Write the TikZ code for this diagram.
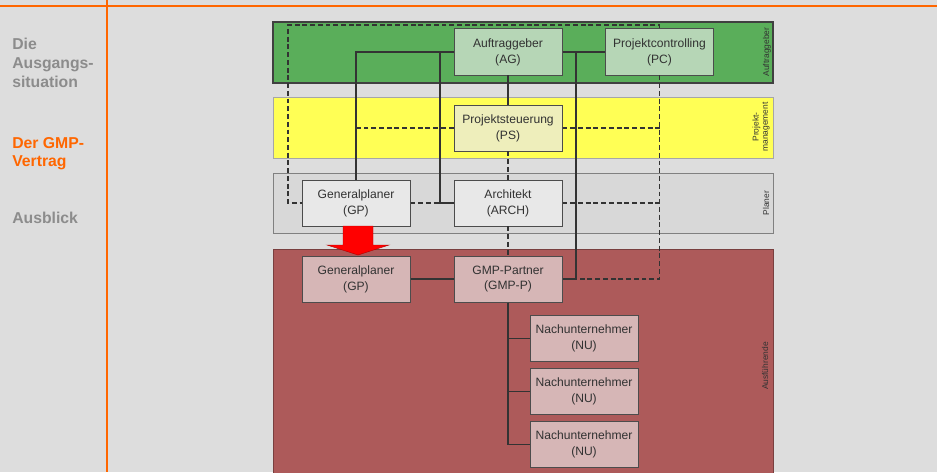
\documentclass[tikz,border=0pt]{standalone}
\usepackage{fontspec}
\setmainfont{Liberation Sans}
\definecolor{slidebg}{RGB}{221,221,221}
\definecolor{slideorange}{RGB}{255,102,0}
\definecolor{menugray}{RGB}{140,140,140}
\definecolor{agfill}{RGB}{90,174,90}
\definecolor{agbox}{RGB}{182,214,182}
\definecolor{pmfill}{RGB}{255,255,85}
\definecolor{pmbox}{RGB}{238,238,187}
\definecolor{plfill}{RGB}{216,216,216}
\definecolor{plbox}{RGB}{232,232,232}
\definecolor{exfill}{RGB}{173,90,90}
\definecolor{exbox}{RGB}{214,182,182}
\definecolor{boxtext}{RGB}{50,50,50}

\begin{document}
\begin{tikzpicture}
  [x=0.025cm, y=-0.025cm,
    every node/.style={text=boxtext, font=\fontsize{8.6}{11.2}\selectfont, align=center},
    band/.style={minimum width=12.5cm, minimum height=1.525cm, inner sep=0pt},
    orgbox/.style={draw=black!70, line width=0.7pt, minimum width=2.7cm, minimum height=1.15cm, inner sep=1pt},
    bandlabel/.style={rotate=90, font=\fontsize{6}{6.6}\selectfont, text=black!80},
    menu/.style={anchor=north west, inner sep=0pt, align=left, font=\fontsize{11.2}{13.3}\selectfont\bfseries, text=menugray},
    link/.style={draw=black!80, line width=0.85pt},
    dlink/.style={link, dash pattern=on 3.5pt off 2pt},
  ]
  \useasboundingbox (0,0) rectangle (937,472);
  \fill[slidebg] (0,0) rectangle (937,472);
  \draw[slideorange, line width=1.2pt] (0,6) -- (937,6) (107,0) -- (107,472);

  \node[menu] (mdie) at (12,38) {Die\\Ausgangs-\\situation};
  \node[menu, text=slideorange] (mgmp) at (12,137) {Der GMP-\\Vertrag};
  \node[menu] (mausb) at (12,212) {Ausblick};

  \node[band, fill=agfill, draw=black!75, line width=1pt] (agzone) at (523,52.5) {};
  \node[band, fill=pmfill, draw=black!35, line width=0.6pt] (pmzone) at (523,127.5) {};
  \node[band, fill=plfill, draw=black!50, line width=0.6pt, minimum height=1.5cm] (plzone) at (523,203) {};
  \node[band, fill=exfill, draw=exfill!70!black, line width=0.6pt, minimum height=5.65cm] (exzone) at (523,362) {};

  \node[bandlabel] (aglabel) at (767,52) {Auftraggeber};
  \node[bandlabel] (pmlabel) at (761,127) {Projekt-\\management};
  \node[bandlabel] (pllabel) at (766,203) {Planer};
  \node[bandlabel] (exlabel) at (765,366) {Ausführende};

  \node[orgbox, fill=agbox] (ag) at (508,52) {Auftraggeber\\(AG)};
  \node[orgbox, fill=agbox] (pc) at (659.5,52) {Projektcontrolling\\(PC)};
  \node[orgbox, fill=pmbox] (ps) at (508,128) {Projektsteuerung\\(PS)};
  \node[orgbox, fill=plbox] (gpa) at (356,203) {Generalplaner\\(GP)};
  \node[orgbox, fill=plbox] (arch) at (508,203) {Architekt\\(ARCH)};
  \node[orgbox, fill=exbox] (gpb) at (356,279) {Generalplaner\\(GP)};
  \node[orgbox, fill=exbox] (gmpp) at (508,279) {GMP-Partner\\(GMP-P)};
  \foreach \i/\y in {1/338.5, 2/391.5, 3/444.5}
    \node[orgbox, fill=exbox] (nu\i) at (584,\y) {Nachunternehmer\\(NU)};

  \coordinate (agj) at (440,52);
  \coordinate (pcj) at (576,52);
  \coordinate (topj) at (288,25);
  \draw[link] (ag.west) -| (gpa.north);
  \draw[link] (agj) |- (arch.west);
  \draw[link] (ag.south) -- (ps.north);
  \draw[link] (ag.east) -- (pc.west);
  \draw[link] (pcj) |- (gmpp.east);
  \draw[link] (gpb.east) -- (gmpp.west);
  \foreach \i in {1,2,3}
    \draw[link] (gmpp.south) |- (nu\i.west);
  \draw[dlink] (ps.south) -- (arch.north);
  \draw[dlink] (arch.south) -- (gmpp.north);
  \draw[dlink] (pc.north) |- (topj) |- (gpa.west);
  \draw[dlink] (pc.south) |- (pcj |- gmpp.east);
  \draw[dlink] (ps.west) -- (ps.west -| gpa.north);
  \draw[dlink] (ps.east) -- (ps.east -| pc.south);
  \draw[dlink] (gpa.east) -- (gpa.east -| agj);
  \draw[dlink] (arch.east) -- (arch.east -| pc.south);

  \filldraw[fill=red, draw=red!70!black, line width=0.3pt]
    (343,226) -- (373,226) -- (373,245) -- (389,245) -- (358,255) -- (327,245) -- (343,245) -- cycle;
\end{tikzpicture}
\end{document}
